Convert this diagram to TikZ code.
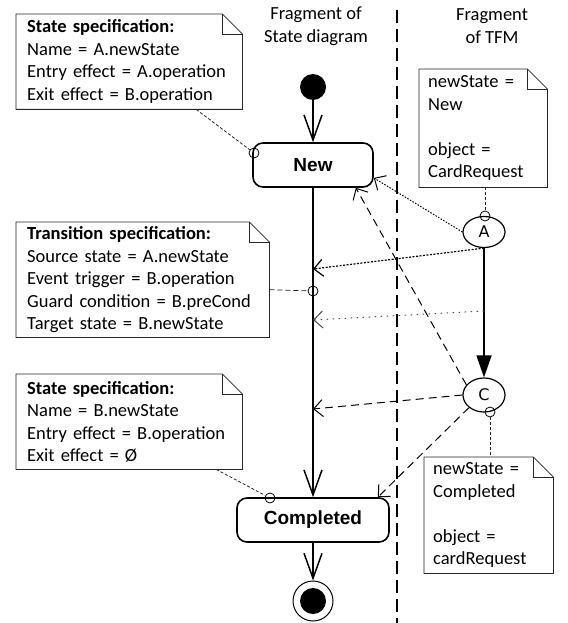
\documentclass[tikz,border=0pt]{standalone}
\usepackage{fontspec}
\setmainfont{Carlito}
\newfontfamily\arialfont{Liberation Sans}
\newfontfamily\dejavufont{DejaVu Sans}
\usetikzlibrary{positioning,shapes.geometric,arrows.meta}
\tikzstyle{spec}=[anchor=north west, align=left, inner xsep=11pt, inner ysep=0pt, font=\fontsize{18.5}{22.5}\selectfont]
\tikzstyle{notebox}=[draw=black!85, line width=0.8pt]
\tikzstyle{state}=[draw, rounded corners=10pt, line width=1.6pt, minimum height=44pt, font=\arialfont\fontsize{19}{22}\selectfont\bfseries]
\tikzstyle{tfm}=[draw, ellipse, line width=1.2pt, minimum width=42pt, minimum height=31pt, inner sep=0pt, font=\dejavufont\fontsize{16}{18}\selectfont]
\tikzstyle{port}=[draw, circle, inner sep=0pt, minimum size=10pt, line width=0.8pt]
\tikzstyle{trans}=[-{Straight Barb[length=25pt,width=18pt]}, line width=1.5pt]
\tikzstyle{link}=[-{Straight Barb[length=9pt,width=17pt]}, line width=1pt]
\newcommand{\dogear}[1]{%
  \draw[notebox] (#1.north west) -- ([xshift=-20pt]#1.north east) -- ([yshift=-20pt]#1.north east) -- (#1.south east) -- (#1.south west) -- cycle;
  \draw[notebox] ([xshift=-20pt]#1.north east) |- ([yshift=-20pt]#1.north east);}

\begin{document}
\begin{tikzpicture}[x=1pt,y=-1pt]
\useasboundingbox (0,0) rectangle (567,623);

\node[align=center, font=\fontsize{18.5}{22.5}\selectfont] (hdrSD) at (316,26) {Fragment of\\State diagram};
\node[align=center, font=\fontsize{18.5}{22.5}\selectfont] (hdrTFM) at (492,26) {Fragment\\of TFM};

\coordinate (divTop) at (397,10);
\coordinate (divBot) at (397,623);
\draw[line width=2pt, dash pattern=on 13pt off 6pt] (divTop) -- (divBot);

% state diagram
\node[circle, fill, minimum size=26pt, inner sep=0pt] (init) at (313,87) {};
\node[state, minimum width=120pt, below of=init, node distance=78pt] (New) {New};
\node[state, minimum width=152pt, below of=New, node distance=355pt] (Completed) {Completed};
\node[circle, draw, line width=1pt, minimum size=40pt, inner sep=0pt, below of=Completed, node distance=81pt] (fin) {};
\node[circle, fill, minimum size=26pt, inner sep=0pt] (finDot) at (fin) {};
\draw[trans] (init) -- (New);
\draw[trans] (New) -- (Completed);
\draw[trans] (Completed) -- (fin);

% TFM
\node[tfm] (A) at (484,232) {A};
\node[tfm, minimum height=34pt, below of=A, node distance=163pt] (C) {C};
\draw[line width=1.5pt, -{Triangle[length=22pt,width=15pt]}] (A) -- (C);

% notes
\node[spec, text width=204pt, minimum height=95pt] (specNew) at (16,14) {\textbf{State specification:}\\Name = A.newState\\Entry effect = A.operation\\Exit effect = B.operation};
\node[spec, text width=231pt, minimum height=115pt] (specTrans) at (16,222) {\textbf{Transition specification:}\\Source state = A.newState\\Event trigger = B.operation\\Guard condition = B.preCond\\Target state = B.newState};
\node[spec, text width=204pt, minimum height=95pt] (specCompl) at (16,374) {\textbf{State specification:}\\Name = B.newState\\Entry effect = B.operation\\Exit effect = Ø};
\node[spec, inner xsep=9pt, text width=110pt, minimum height=118pt] (tfmNoteA) at (419,69) {newState =\\New\\[22.5pt]object =\\CardRequest};
\node[spec, inner xsep=9pt, text width=111pt, minimum height=116pt] (tfmNoteC) at (424,457) {newState =\\Completed\\[22.5pt]object =\\cardRequest};
\dogear{specNew}
\dogear{specTrans}
\dogear{specCompl}
\dogear{tfmNoteA}
\dogear{tfmNoteC}

\coordinate (t1) at (313,269);
\coordinate (t2) at (313,320);
\coordinate (t3) at (313,409);
\coordinate (mAC) at (484,311);
\node[port] (p1) at (254,153) {};
\node[port] (p2) at (313,291) {};
\node[port] (p3) at (270,498) {};
\node[port] (pA) at (485,216) {};
\node[port] (pC) at (490,412) {};

\draw[notebox, dash pattern=on 3pt off 2pt] ([xshift=67pt]specNew.south) -- (p1);
\draw[notebox, dash pattern=on 5pt off 3pt] ([yshift=-10pt]specTrans.east) -- (p2);
\draw[notebox, dash pattern=on 3pt off 2pt] ([xshift=87pt]specCompl.south) -- (p3);
\draw[notebox, dash pattern=on 3pt off 2pt] (pA |- tfmNoteA.south) -- (pA);
\draw[notebox, dash pattern=on 3pt off 2pt] (pC) -- (pC |- tfmNoteC.north);

\draw[link, dash pattern=on 1.5pt off 1.5pt] (A.west) -- (New.-12);
\draw[link, dash pattern=on 2pt off 1.5pt, line width=1.2pt] (A.south) -- (t1);
\draw[link, dash pattern=on 1.5pt off 4.5pt, draw=black!70] (mAC) -- (t2);
\draw[link, dash pattern=on 8pt off 5pt] (C.150) -- ([xshift=-18pt]New.south east);
\draw[link, dash pattern=on 8pt off 5pt] (C.west) -- (t3);
\draw[link, dash pattern=on 8pt off 5pt] (C.-140) -- ([xshift=-12pt]Completed.north east);
\end{tikzpicture}
\end{document}
